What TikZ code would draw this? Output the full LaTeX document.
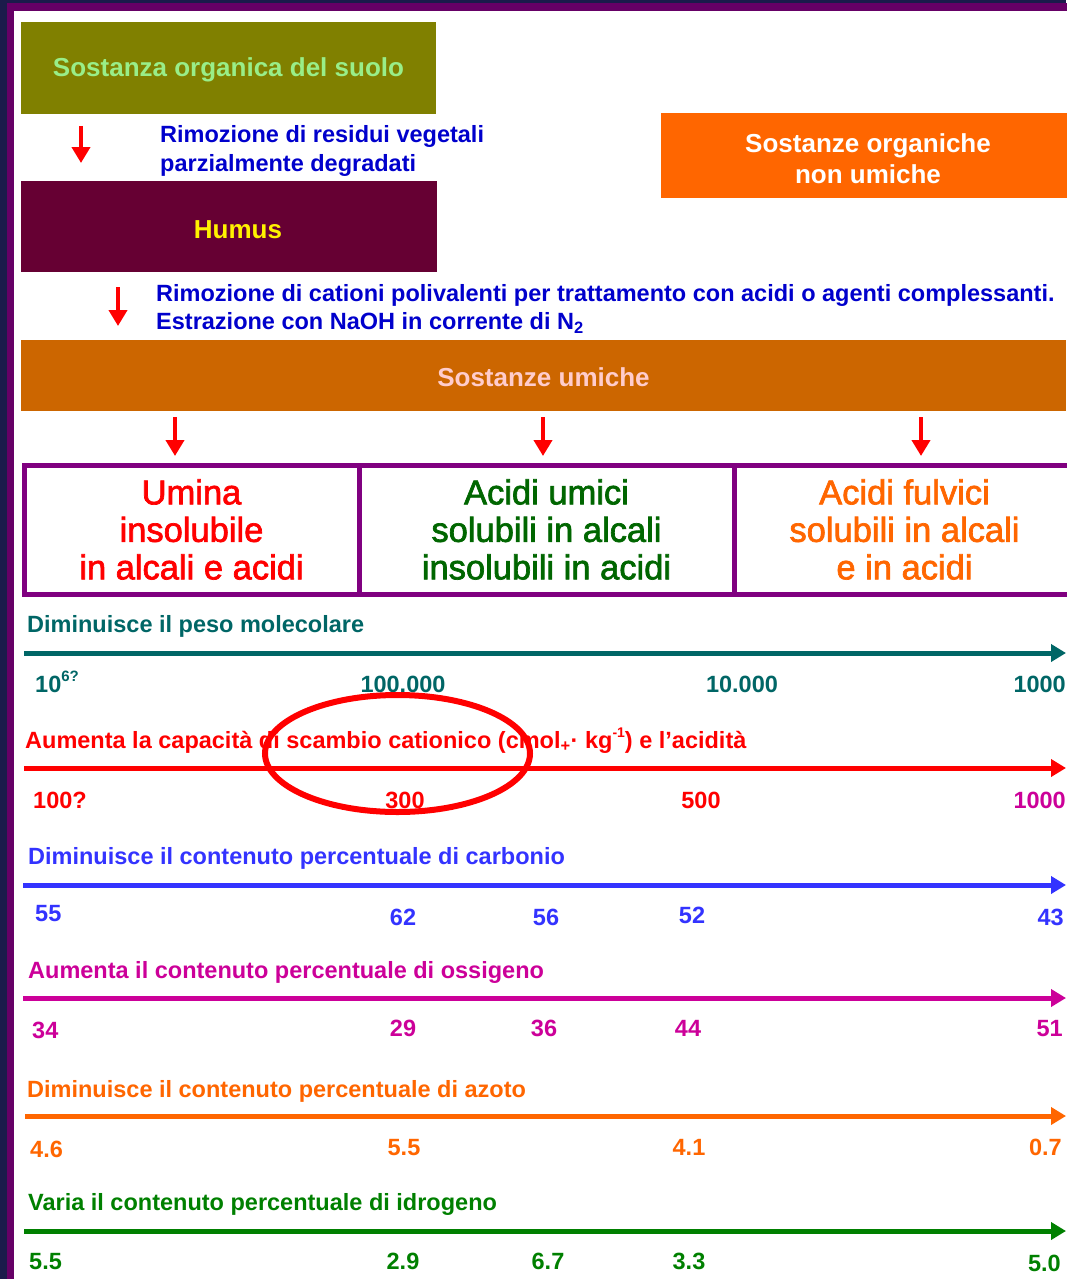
\documentclass[tikz,border=0pt]{standalone}
\usepackage{fontspec}
\setmainfont{Liberation Sans}
\newfontfamily\boxfont{Liberation Sans}[FakeBold=2]
\usetikzlibrary{arrows.meta}
\definecolor{navybg}{HTML}{1B1B4B}
\definecolor{framepurple}{HTML}{660066}
\definecolor{olivebox}{HTML}{808000}
\definecolor{soiltext}{HTML}{99EE88}
\definecolor{humusbox}{HTML}{660033}
\definecolor{nonumbox}{HTML}{FF6600}
\definecolor{umichebox}{HTML}{CC6600}
\definecolor{umichetext}{HTML}{FFCCCC}
\definecolor{bluetxt}{HTML}{0000CC}
\definecolor{boxpurple}{HTML}{800080}
\definecolor{umicigreen}{HTML}{006600}
\definecolor{fulviorange}{HTML}{FF6600}
\definecolor{rowteal}{HTML}{006666}
\definecolor{rowred}{HTML}{FF0000}
\definecolor{rowblue}{HTML}{3333FF}
\definecolor{rowmag}{HTML}{CC0099}
\definecolor{roworange}{HTML}{FF6600}
\definecolor{rowgreen}{HTML}{008000}
\newcommand\fsA{\fontsize{26}{31}\selectfont\bfseries}
\newcommand\fsB{\fontsize{23.5}{28.5}\selectfont\bfseries}
\newcommand\fsC{\boxfont\fontsize{34.5}{37.5}\selectfont}
\begin{document}
\begin{tikzpicture}[x=1pt,y=-1pt,
  box/.style={inner sep=0pt, outer sep=0pt},
  fracbox/.style={draw=boxpurple, line width=5pt, inner sep=0pt, align=center, font=\fsC, minimum height=129pt},
  redarr/.style={draw=red, line width=4pt, -{Triangle[width=18pt,length=16pt]}},
  axisarr/.style={line width=5pt, -{Triangle[width=17pt,length=15pt]}},
  rowtitle/.style={inner sep=0pt, anchor=base west, font=\fsB},
  val/.style={inner sep=0pt, anchor=base, font=\fsB}]
\useasboundingbox (0,0) rectangle (1066,1279);
\fill[navybg] (0,0) rectangle (1066,1279);
\fill[framepurple] (7,3) rectangle (1080,1290);
\fill[white] (14,11) rectangle (1080,1290);

% top boxes
\node[box, fill=olivebox, minimum width=415pt, minimum height=92pt, text=soiltext, font=\fsA, text height=19pt, text depth=1pt] (soil) at (228.5,68) {Sostanza organica del suolo};
\node[box, fill=humusbox, minimum width=416pt, minimum height=91pt, text=yellow, font=\fsA, text height=23pt, text depth=0pt] (humus) at (229,226.5) {\hspace*{18pt}Humus};
\node[box, fill=nonumbox, minimum width=414pt, minimum height=85pt] (nonum) at (868,155.5) {};
\node[inner sep=0pt, anchor=base, text=white, font=\fsA, align=center] (nonumtxt) at (868,183) {Sostanze organiche\\non umiche};
\node[box, fill=umichebox, minimum width=1045pt, minimum height=71pt, text=umichetext, font=\fsA, text height=22pt, text depth=0pt] (umiche) at (543.5,375.5) {Sostanze umiche};

% step texts (base anchor = last line)
\node[inner sep=0pt, anchor=base west, font=\fsB, text=bluetxt, align=left] (rim1) at (160,171.5) {Rimozione di residui vegetali\\parzialmente degradati};
\node[inner sep=0pt, anchor=base west, font=\fsB, text=bluetxt, align=left] (rim2) at (156,329.5) {Rimozione di cationi polivalenti per trattamento con acidi o agenti complessanti.\\Estrazione con NaOH in corrente di N\textsubscript{2}};

% red arrows
\coordinate (a1s) at (81,126); \coordinate (a1e) at (81,163);
\coordinate (a2s) at (118,287); \coordinate (a2e) at (118,326);
\coordinate (a3s) at (175,417); \coordinate (a3e) at (175,456);
\coordinate (a4s) at (543,417); \coordinate (a4e) at (543,456);
\coordinate (a5s) at (921,417); \coordinate (a5e) at (921,456);
\draw[redarr] (a1s) -- (a1e);
\draw[redarr] (a2s) -- (a2e);
\draw[redarr] (a3s) -- (a3e);
\draw[redarr] (a4s) -- (a4e);
\draw[redarr] (a5s) -- (a5e);

% fraction boxes
\node[fracbox, minimum width=335pt, text=red] (umina) at (191.5,529.5) {Umina\\insolubile\\in alcali e acidi};
\node[fracbox, minimum width=375pt, text=umicigreen] (umici) at (546.5,529.5) {Acidi umici\\solubili in alcali\\insolubili in acidi};
\node[fracbox, minimum width=341pt, text=fulviorange] (fulvici) at (904.5,529.5) {Acidi fulvici\\solubili in alcali\\e in acidi};

% row 1
\node[rowtitle, text=rowteal] (t1) at (27,632) {Diminuisce il peso molecolare};
\coordinate (l1s) at (24,653); \coordinate (l1e) at (1066,653);
\draw[axisarr, rowteal] (l1s) -- (l1e);
\node[val, text=rowteal, anchor=base west] (v11) at (35,692) {10\raisebox{0.45em}{\fontsize{15}{15}\selectfont 6?}};
\node[val, text=rowteal] (v12) at (403,692) {100.000};
\node[val, text=rowteal] (v13) at (742,692) {10.000};
\node[val, text=rowteal, anchor=base east] (v14) at (1066,692) {1000};

% row 2
\node[rowtitle, text=rowred] (t2) at (25,748) {Aumenta la capacità di scambio cationico (cmol\textsubscript{+}· kg\raisebox{0.45em}{\fontsize{14}{14}\selectfont -1}) e l’acidità};
\coordinate (l2s) at (24,768); \coordinate (l2e) at (1066,768);
\draw[axisarr, rowred] (l2s) -- (l2e);
\node[val, text=rowred, anchor=base west] (v21) at (33,808) {100?};
\node[val, text=rowred] (v22) at (405,808) {300};
\node[val, text=rowred] (v23) at (701,808) {500};
\node[val, text=rowmag, anchor=base east] (v24) at (1066,808) {1000};

% row 3
\node[rowtitle, text=rowblue] (t3) at (28,864) {Diminuisce il contenuto percentuale di carbonio};
\coordinate (l3s) at (23,885); \coordinate (l3e) at (1066,885);
\draw[axisarr, rowblue] (l3s) -- (l3e);
\node[val, text=rowblue, anchor=base west] (v31) at (35,921) {55};
\node[val, text=rowblue] (v32) at (403,925) {62};
\node[val, text=rowblue] (v33) at (546,925) {56};
\node[val, text=rowblue] (v34) at (692,923) {52};
\node[val, text=rowblue, anchor=base east] (v35) at (1064,925) {43};

% row 4
\node[rowtitle, text=rowmag] (t4) at (28,978) {Aumenta il contenuto percentuale di ossigeno};
\coordinate (l4s) at (23,998); \coordinate (l4e) at (1066,998);
\draw[axisarr, rowmag] (l4s) -- (l4e);
\node[val, text=rowmag, anchor=base west] (v41) at (32,1038) {34};
\node[val, text=rowmag] (v42) at (403,1036) {29};
\node[val, text=rowmag] (v43) at (544,1036) {36};
\node[val, text=rowmag] (v44) at (688,1036) {44};
\node[val, text=rowmag, anchor=base east] (v45) at (1063,1036) {51};

% row 5
\node[rowtitle, text=roworange] (t5) at (27,1097) {Diminuisce il contenuto percentuale di azoto};
\coordinate (l5s) at (25,1116); \coordinate (l5e) at (1066,1116);
\draw[axisarr, roworange] (l5s) -- (l5e);
\node[val, text=roworange, anchor=base west] (v51) at (30,1157) {4.6};
\node[val, text=roworange] (v52) at (404,1155) {5.5};
\node[val, text=roworange] (v53) at (689,1155) {4.1};
\node[val, text=roworange, anchor=base east] (v54) at (1062,1155) {0.7};

% row 6
\node[rowtitle, text=rowgreen] (t6) at (28,1210) {Varia il contenuto percentuale di idrogeno};
\coordinate (l6s) at (24,1231); \coordinate (l6e) at (1066,1231);
\draw[axisarr, rowgreen] (l6s) -- (l6e);
\node[val, text=rowgreen, anchor=base west] (v61) at (29,1269) {5.5};
\node[val, text=rowgreen] (v62) at (403,1269) {2.9};
\node[val, text=rowgreen] (v63) at (548,1269) {6.7};
\node[val, text=rowgreen] (v64) at (689,1269) {3.3};
\node[val, text=rowgreen, anchor=base east] (v65) at (1061,1271) {5.0};

% highlight ellipse
\draw[red, line width=6pt] (397.5,753.5) ellipse [x radius=132.5, y radius=58.5];
\end{tikzpicture}
\end{document}
